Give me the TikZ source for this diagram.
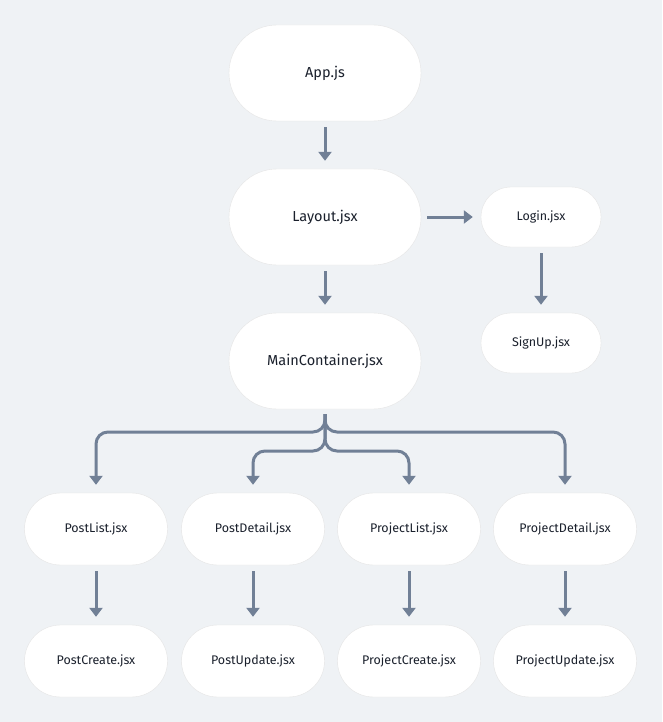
\documentclass[tikz,border=0pt]{standalone}
\usepackage{fontspec}
\setmainfont{Fira Sans}
\usetikzlibrary{arrows.meta,positioning}
\definecolor{bgcol}{HTML}{EFF2F5}
\definecolor{arrcol}{HTML}{718096}
\definecolor{txtcol}{HTML}{1A202C}
\tikzset{
    font={\fontsize{12pt}{12}\selectfont},
    big/.style={
           rectangle,
           rounded corners=48pt,
           draw=black!10, fill=white,
           minimum width=192pt, minimum height=96pt,
           text=txtcol, font={\fontsize{14.5pt}{14.5}\selectfont},
           },
    mid/.style={big, rounded corners=36pt,
           minimum width=143pt, minimum height=72pt,
           font={\fontsize{12.5pt}{12.5}\selectfont}},
    small/.style={big, rounded corners=30pt,
           minimum width=120pt, minimum height=60pt,
           font={\fontsize{12.5pt}{12.5}\selectfont}},
    link/.style={draw=arrcol, line width=3pt, -{Triangle[length=9pt,width=13pt]},
           shorten <=6pt, shorten >=8pt},
}
\begin{document}
\begin{tikzpicture}[x=1pt,y=-1pt]
\fill[bgcol] (0,0) rectangle (662,722);

\node[big] (APP) at (325,73) {App.js};
\node[big] (LAYOUT) at (325,217) {Layout.jsx};
\node[big] (MAIN) at (325,361) {MainContainer.jsx};
\node[small] (LOGIN) at (541,217) {Login.jsx};
\node[small] (SIGNUP) at (541,343) {SignUp.jsx};

% first row below the container
\node[mid] (POSTLIST) at (96,529) {PostList.jsx};
\node[mid] (POSTDETAIL) at (253,529) {PostDetail.jsx};
\node[mid] (PROJLIST) at (409,529) {ProjectList.jsx};
\node[mid] (PROJDETAIL) at (565,529) {ProjectDetail.jsx};

% second row
\node[mid] (POSTCREATE) at (96,661) {PostCreate.jsx};
\node[mid] (POSTUPDATE) at (253,661) {PostUpdate.jsx};
\node[mid] (PROJCREATE) at (409,661) {ProjectCreate.jsx};
\node[mid] (PROJUPDATE) at (565,661) {ProjectUpdate.jsx};

\coordinate (SPLIT) at (325,414);

\path (APP) edge[link] (LAYOUT)
(LAYOUT) edge[link] (MAIN)
(LAYOUT) edge[link] (LOGIN)
(LOGIN) edge[link] (SIGNUP)
(POSTLIST) edge[link] (POSTCREATE)
(POSTDETAIL) edge[link] (POSTUPDATE)
(PROJLIST) edge[link] (PROJCREATE)
(PROJDETAIL) edge[link] (PROJUPDATE);

\draw[link, shorten <=0pt, rounded corners=12pt] (SPLIT) |- (200,432) -| (POSTLIST.north);
\draw[link, shorten <=0pt, rounded corners=12pt] (SPLIT) |- (450,432) -| (PROJDETAIL.north);
\draw[link, shorten <=0pt, rounded corners=12pt] (SPLIT) |- (290,451) -| (POSTDETAIL.north);
\draw[link, shorten <=0pt, rounded corners=12pt] (SPLIT) |- (370,451) -| (PROJLIST.north);
\draw[draw=arrcol, line width=3pt, shorten <=5pt] (MAIN.south) -- (SPLIT);
\end{tikzpicture}
\end{document}
